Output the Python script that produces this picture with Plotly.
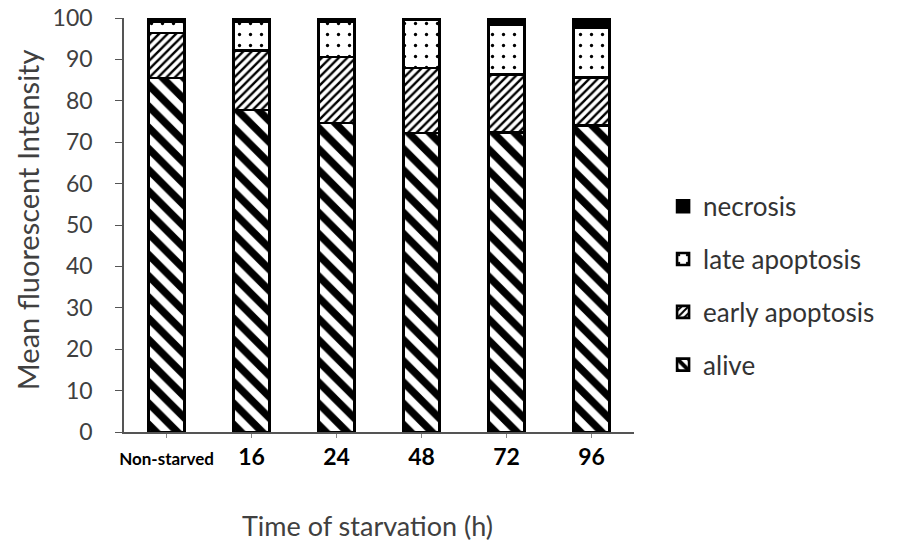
import plotly.graph_objects as go

categories = ["Non-starved", "16", "24", "48", "72", "96"]
alive = [85.5, 77.8, 74.6, 72.2, 72.3, 74.0]
early_apoptosis = [10.9, 14.3, 16.0, 15.7, 14.0, 11.7]
late_apoptosis = [2.6, 6.9, 8.4, 11.6, 12.0, 12.0]
necrosis = [1.0, 1.0, 1.0, 0.5, 1.7, 2.3]

series = [
    ("alive", alive, dict(shape="\\", size=15, solidity=0.5), 4),
    ("early apoptosis", early_apoptosis, dict(shape="/", size=6, solidity=0.4), 3),
    ("late apoptosis", late_apoptosis, dict(shape=".", size=11, solidity=0.07), 2),
    ("necrosis", necrosis, None, 1),
]

tick_text = ["<span style='font-size:17px'>Non-starved</span>", "16", "24", "48", "72", "96"]

fig = go.Figure()
for name, vals, pat, rank in series:
    marker = dict(line=dict(color="black", width=2.6))
    if pat is None:
        marker["color"] = "black"
    else:
        marker["color"] = "white"
        marker["pattern"] = dict(fgcolor="black", bgcolor="white", fgopacity=1,
                                 fillmode="overlay", **pat)
    fig.add_trace(go.Bar(
        x=categories, y=vals, name=name, marker=marker, width=0.42,
        legendgroup=name, legendrank=rank,
    ))

fig.update_layout(
    barmode="stack",
    width=898, height=547,
    margin=dict(l=124, r=264, t=18, b=115),
    plot_bgcolor="white", paper_bgcolor="white",
    font=dict(family="Lato, Open Sans, sans-serif", color="#404040"),
    legend=dict(
        x=1.057, y=0.353, xanchor="left", yanchor="middle",
        font=dict(size=26, color="#333333"),
        traceorder="grouped", tracegroupgap=16,
        itemwidth=30,
    ),
    xaxis=dict(
        type="category", automargin=False,
        tickmode="array", tickvals=categories, ticktext=tick_text,
        tickfont=dict(size=23, color="black", family="Lato, sans-serif", weight="bold"),
        showline=True, linecolor="#555", linewidth=1.5,
        ticks="outside", ticklen=4, tickcolor="#888",
    ),
    yaxis=dict(
        range=[0, 100], tickmode="linear", tick0=0, dtick=10, automargin=False,
        tickfont=dict(size=23, color="#404040"),
        ticklabelstandoff=18,
        showline=True, linecolor="#555", linewidth=1.5,
        ticks="outside", ticklen=7, tickcolor="#555",
        showgrid=False, zeroline=False,
    ),
    annotations=[
        dict(text="Mean fluorescent Intensity", xref="paper", yref="paper",
             x=-0.19, y=0.512, textangle=-90, showarrow=False,
             xanchor="center", yanchor="middle",
             font=dict(size=29, color="#404040")),
        dict(text="Time of starvation (h)", xref="paper", yref="paper",
             x=0.478, y=-0.225, showarrow=False,
             xanchor="center", yanchor="middle",
             font=dict(size=27, color="#404040")),
    ],
)

fig.write_html("out.html", config={"displayModeBar": False},
               post_script="document.body.style.margin='0px';")
